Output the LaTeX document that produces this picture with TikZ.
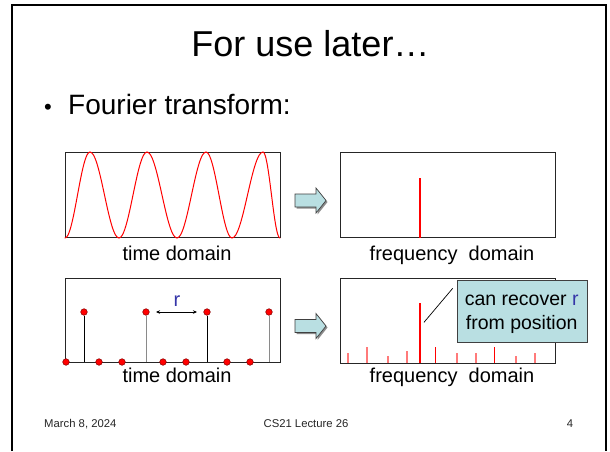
\documentclass[tikz,border=0pt]{standalone}
\usepackage{fontspec}
\setmainfont{Liberation Sans}
\usetikzlibrary{arrows.meta}
\definecolor{callfill}{HTML}{B9DFE2}
\definecolor{edgegray}{HTML}{404040}
\definecolor{rblue}{HTML}{3535A8}
\definecolor{pinkred}{HTML}{FF7A7A}
\definecolor{stemgray}{HTML}{8A8A8A}
\tikzset{
  panel/.style={draw=black!85, line width=0.7pt, anchor=north west, inner sep=0pt, outer sep=0pt, minimum width=215pt, minimum height=85pt},
  wave/.style={red, line width=1pt, line cap=round},
  dotred/.style={circle, fill=red, draw=red!50!black, line width=0.5pt, minimum size=6.6pt, inner sep=0pt},
  stemblack/.style={black, line width=0.9pt},
  stemlight/.style={stemgray, line width=1pt},
  spikebig/.style={red, line width=2.2pt},
  spikered/.style={red, line width=1pt},
  spikepink/.style={pinkred, line width=1.1pt},
  blockarrow/.style={fill=callfill, draw=edgegray, line width=0.7pt},
  arrowshadow/.style={fill=black!45, draw=none},
  callout/.style={fill=callfill, draw=edgegray, line width=0.7pt, anchor=north west, inner sep=0pt, minimum width=130pt, minimum height=62pt},
  lbl/.style={anchor=base, inner sep=0pt, font=\fontsize{20}{24}\selectfont},
  foot/.style={anchor=base, inner sep=0pt, text=black!85, font=\fontsize{11.3}{13}\selectfont},
}
\begin{document}
\begin{tikzpicture}[x=1pt, y=-1pt]
\useasboundingbox (0,0) rectangle (610,451);
\fill[white] (0,0) rectangle (610,451);
% slide frame
\draw[line width=2pt] (12,451) -- (12,4.5) -- (606,4.5) -- (606,451);
% title and bullet
\node[anchor=base, inner sep=0pt, font=\fontsize{36}{43}\selectfont] (title) at (310.5,56) {For use later…};
\node[anchor=base, inner sep=0pt, font=\fontsize{22}{26}\selectfont] (bullet) at (48,114) {•};
\node[anchor=base west, inner sep=0pt, font=\fontsize{28}{34}\selectfont] (ft) at (68,114) {Fourier transform:};

% ---------- top row ----------
\node[panel] (td1) at (65,152.5) {};
\foreach \a/\b/\s in {65/90/1,90/119/-1,119/147/1,147/177/-1,177/206/1,206/232/-1,232/263/1,263/280/-1}
  \draw[wave] plot[domain=\a:\b, samples=18, smooth] (\x,{195+\s*43*cos(180*(\x-\a)/(\b-\a))});
\node[lbl] (tdl1) at (177,260) {time domain};

% block arrow 1
\fill[arrowshadow] (296.5,195.5) -- (317.5,195.5) -- (317.5,189.5) -- (327.5,202) -- (317.5,214.5) -- (317.5,208.5) -- (296.5,208.5) -- cycle;
\draw[blockarrow] (295,194) -- (316,194) -- (316,188) -- (326,200.5) -- (316,213) -- (316,207) -- (295,207) -- cycle;

\node[panel] (fd1) at (340,152.5) {};
\coordinate (s1b) at (420,238);
\coordinate (s1t) at (420,178);
\draw[spikebig] (s1b) -- (s1t);
\node[lbl] (fdl1) at (452,260) {frequency\hspace{0.556em}domain};

% ---------- bottom row ----------
\node[panel, minimum height=84pt] (td2) at (65,278) {};
% stems
\foreach \n/\xx/\st in {a/84/stemblack,b/146/stemlight,c/207/stemblack,d/269/stemlight}{
  \coordinate (base\n) at (\xx,362);
  \node[dotred] (top\n) at (\xx,312) {};
  \draw[\st] (base\n) -- (top\n);
}
\foreach \n/\xx in {1/66,2/99,3/122,4/163,5/186,6/227,7/250}
  \node[dotred] (z\n) at (\xx,362) {};
\coordinate (rl) at (156,312);
\coordinate (rr) at (197,312);
\draw[{Stealth[length=4pt,width=3.5pt]}-{Stealth[length=4pt,width=3.5pt]}, line width=0.7pt] (rl) -- (rr);
\node[lbl, text=rblue] (rlab) at (177,306) {r};
\node[lbl] (tdl2) at (177,382) {time domain};

% block arrow 2
\fill[arrowshadow] (296.5,321) -- (317.5,321) -- (317.5,315) -- (327.5,327.5) -- (317.5,340) -- (317.5,334) -- (296.5,334) -- cycle;
\draw[blockarrow] (295,319.5) -- (316,319.5) -- (316,313.5) -- (326,326) -- (316,338.5) -- (316,332.5) -- (295,332.5) -- cycle;

\node[panel] (fd2) at (340,278) {};
\coordinate (s2b) at (420,363);
\coordinate (s2t) at (420,303);
\draw[spikebig] (s2b) -- (s2t);
\foreach \xx/\yy/\st in {348/353/spikepink,367/347/spikepink,388/356/spikepink,407/351/spikepink,435/347/spikered,457/353/spikepink,476/353/spikepink,494/347/spikered,516/356/spikepink,535/353/spikepink}
  \draw[\st] (\xx,363) -- (\xx,\yy);
\node[lbl] (fdl2) at (452,382) {frequency\hspace{0.556em}domain};

% callout
\node[callout] (call) at (456.7,280) {};
\node[anchor=base, inner sep=0pt, font=\fontsize{19.5}{24}\selectfont] (c1) at (521.7,305) {can recover \textcolor{rblue}{r}};
\node[anchor=base, inner sep=0pt, font=\fontsize{19.5}{24}\selectfont] (c2) at (521.7,329) {from position};
\coordinate (ptr) at (424,322.3);
\coordinate (ptrend) at (452.7,288.3);
\draw[black, line width=0.7pt] (ptr) -- (ptrend);

% footer
\node[foot, anchor=base west] (date) at (44,427) {March 8, 2024};
\node[foot] (lect) at (306,427) {CS21 Lecture 26};
\node[foot] (pg) at (570,427) {4};
\end{tikzpicture}
\end{document}
